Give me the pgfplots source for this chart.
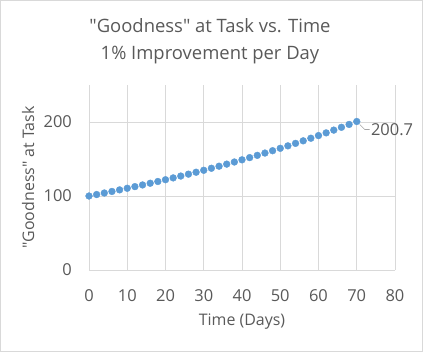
\documentclass[border=0pt]{standalone}
\usepackage{pgfplots}
\pgfplotsset{compat=1.18}
\usepackage{fontspec}
\setmainfont{Open Sans}
\definecolor{txt}{HTML}{595959}
\definecolor{grd}{HTML}{D9D9D9}
\definecolor{ser}{HTML}{5B9BD5}
\begin{document}
\begin{tikzpicture}[x=1bp,y=1bp]
\begin{axis}[
  at={(0,0)}, anchor=south west,
  scale only axis, width=306bp, height=185bp,
  xmin=0, xmax=80, ymin=0, ymax=250,
  xtick={0,10,...,80}, ytick={0,100,200},
  grid=major, major grid style={grd, line width=0.8pt},
  axis line style={draw=none},
  extra y ticks={0}, extra y tick labels={}, extra y tick style={grid style={gray!60, line width=0.8pt}},
  tick style={draw=none},
  ticklabel style={font=\fontsize{16.5}{18}\selectfont, text=txt},
  /pgf/number format/assume math mode=true,
  xticklabel style={anchor=center, yshift=-26bp},
  yticklabel style={anchor=east, inner sep=0pt, xshift=-17bp},
  xlabel={Time (Days)}, ylabel={\textquotedbl Goodness\textquotedbl{} at Task},
  label style={font=\fontsize{16}{18}\selectfont, text=txt},
  xlabel style={at={(axis description cs:0.5,-0.281)}, anchor=center},
  ylabel style={at={(axis description cs:-0.199,0.5)}, anchor=center},
  clip=false,
]
\addplot[only marks, mark=*, mark size=3.4bp, mark options={fill=ser, draw=ser}] coordinates {
(0,100.00) (2,102.01) (4,104.06) (6,106.15) (8,108.29) (10,110.46)
(12,112.68) (14,114.95) (16,117.26) (18,119.61) (20,122.02) (22,124.47)
(24,126.97) (26,129.53) (28,132.13) (30,134.78) (32,137.49) (34,140.26)
(36,143.08) (38,145.95) (40,148.89) (42,151.88) (44,154.93) (46,158.04)
(48,161.22) (50,164.46) (52,167.76) (54,171.13) (56,174.57) (58,178.08)
(60,181.67) (62,185.32) (64,189.04) (66,192.84) (68,196.72) (70,200.68)
};
\draw[gray!70, line width=0.6pt] (axis cs:70,200.68) ++(3bp,-3bp) -- ++(5bp,-5bp) -- ++(5bp,0) node[anchor=west, inner sep=1bp, text=txt, font=\fontsize{16.5}{18}\selectfont] {200.7};
\end{axis}
\node[text=txt, font=\fontsize{18.5}{20}\selectfont] at (121bp,244bp) {\textquotedbl Goodness\textquotedbl{} at Task vs. Time};
\node[text=txt, font=\fontsize{18.5}{20}\selectfont] at (121bp,215bp) {1\% Improvement per Day};
\draw[grd, line width=0.8pt] (-88.6bp,-81.6bp) rectangle (333.6bp,269.6bp);
\end{tikzpicture}
\end{document}
